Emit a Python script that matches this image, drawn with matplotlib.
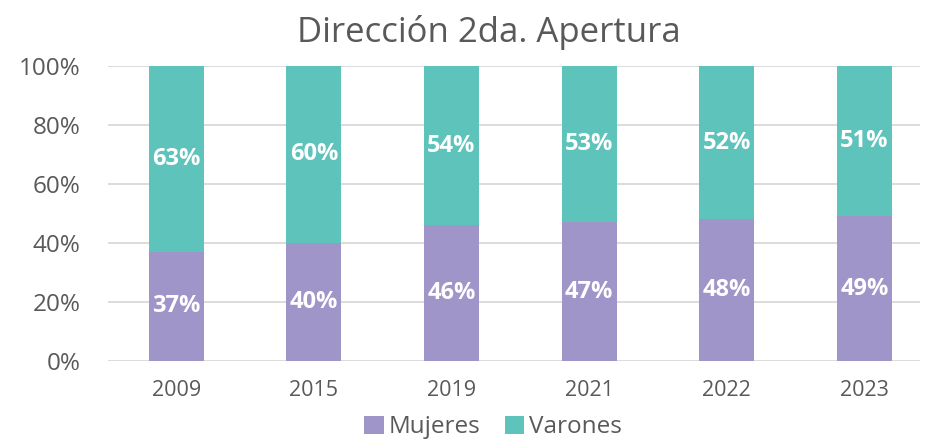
import numpy as np
import matplotlib.pyplot as plt

years = ['2009', '2015', '2019', '2021', '2022', '2023']
mujeres = [37, 40, 46, 47, 48, 49]
varones = [63, 60, 54, 53, 52, 51]

c_muj = '#A095C9'
c_var = '#5EC3BB'
txt = '#595959'

plt.rcParams['font.family'] = ['Open Sans', 'DejaVu Sans']

fig = plt.figure(figsize=(9.25, 4.42), dpi=100)
ax = fig.add_axes([0.1168, 0.1833, 0.878, 0.6674])

x = np.arange(len(years))
w = 0.4
b1 = ax.bar(x, mujeres, w, color=c_muj, label='Mujeres', zorder=2)
b2 = ax.bar(x, varones, w, bottom=mujeres, color=c_var, label='Varones', zorder=2)

for i in range(len(years)):
    ax.text(x[i], mujeres[i] / 2, f'{mujeres[i]}%', ha='center', va='center',
            color='white', fontsize=17, fontweight='bold', zorder=3)
    ax.text(x[i], mujeres[i] + varones[i] / 2, f'{varones[i]}%', ha='center', va='center',
            color='white', fontsize=17, fontweight='bold', zorder=3)

ax.set_ylim(0, 100)
ax.set_xlim(-0.495, 5.405)
ax.set_yticks(range(0, 101, 20))
ax.set_yticklabels([f'{v}%' for v in range(0, 101, 20)])
ax.set_xticks(x)
ax.set_xticklabels(years)
ax.tick_params(axis='y', length=0, labelsize=17.5, labelcolor=txt, pad=20)
ax.tick_params(axis='x', length=0, labelsize=15.5, labelcolor=txt, pad=14)
ax.grid(axis='y', color='#D9D9D9', linewidth=1.3, zorder=0)
for s in ax.spines.values():
    s.set_visible(False)

fig.suptitle('Dirección 2da. Apertura', x=0.528, y=0.965, fontsize=25, color=txt)

fig.legend(handles=[b1, b2], loc='center', bbox_to_anchor=(0.533, 0.033), ncol=2,
           frameon=False, fontsize=17.5, labelcolor=txt, handlelength=0.8, handleheight=0.8,
           handletextpad=0.2, columnspacing=1.0)

fig.savefig('out.png', dpi=100)
